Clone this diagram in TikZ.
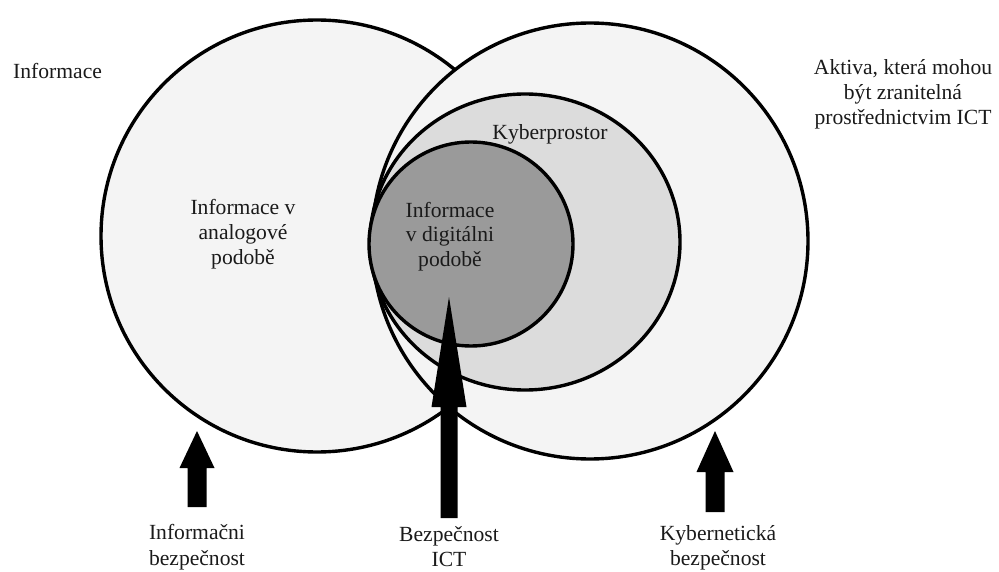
\documentclass[tikz,border=0pt]{standalone}
\usepackage{fontspec}
\setmainfont{Liberation Serif}
\definecolor{outerfill}{HTML}{F4F4F4}
\definecolor{kyberfill}{HTML}{DCDCDC}
\definecolor{digifill}{HTML}{9A9A9A}
\definecolor{txt}{HTML}{1A1A1A}
\newcommand\blockarr[6]{% x, tip y, head base y, bottom y, head half width, shaft half width
  \fill[black] (#1,#2) -- (#1+#5,#3) -- (#1+#6,#3) -- (#1+#6,#4) -- (#1-#6,#4) -- (#1-#6,#3) -- (#1-#5,#3) -- cycle;}
\begin{document}
\begin{tikzpicture}[x=1pt,y=-1pt,
  ring/.style={draw=black,line width=3.4pt},
  lbl/.style={font=\fontsize{21.6}{25}\selectfont,text=txt,inner sep=0pt,align=center,anchor=base}]
\useasboundingbox (0,0) rectangle (999,572);
\clip (0,0) rectangle (999,572);
% circles
\path[ring,fill=outerfill] (317,236) circle[radius=216];
\path[ring,fill=outerfill] (590,241) circle[radius=218];
\path[ring,fill=kyberfill] (525,242) ellipse[x radius=155,y radius=148];
\path[ring,fill=digifill] (471,244) circle[radius=102];
% arrows
\blockarr{197}{431}{468}{507}{17.5}{9.5}
\blockarr{449}{297}{407}{518}{17.5}{8.5}
\blockarr{715}{431}{472}{512}{18.5}{9.5}
% labels (anchor = baseline of the last line)
\node[lbl,anchor=base west] (info) at (13,79) {Informace};
\node[lbl] (analog) at (243,265) {Informace v\\analogové\\podobě};
\node[lbl] (digital) at (450,267) {Informace\\v digitálni\\podobě};
\node[lbl] (kyber) at (550,140) {Kyberprostor};
\node[lbl] (aktiva) at (903,125) {Aktiva, která mohou\\být zranitelná\\prostřednictvim ICT};
\node[lbl,font=\fontsize{21.6}{26}\selectfont] (infobez) at (197,565) {Informačni\\bezpečnost};
\node[lbl] (ictbez) at (449,566) {Bezpečnost\\ICT};
\node[lbl] (kyberbez) at (718,565) {Kybernetická\\bezpečnost};
\end{tikzpicture}
\end{document}
